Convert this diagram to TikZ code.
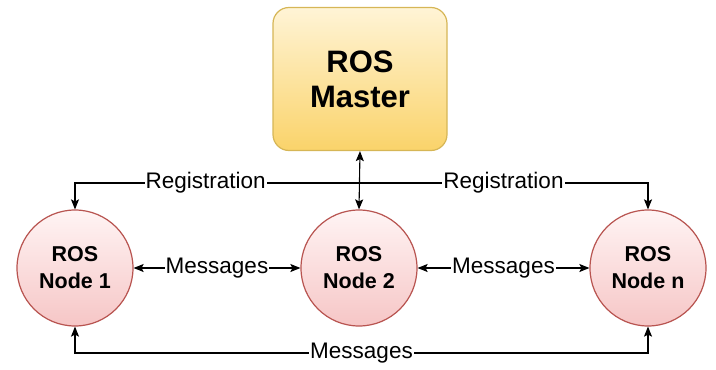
\documentclass[tikz,border=0pt]{standalone}
\usepackage{fontspec}
\setmainfont{Liberation Sans}
\usetikzlibrary{arrows.meta}
\definecolor{mastertop}{HTML}{FFF4D6}
\definecolor{masterbot}{HTML}{FAD36A}
\definecolor{masterborder}{HTML}{D6B656}
\definecolor{nodetop}{HTML}{FFF4F4}
\definecolor{nodebot}{HTML}{F6C6C6}
\definecolor{nodeborder}{HTML}{B85450}
\begin{document}
\begin{tikzpicture}[x=1pt,y=-1pt,
  master/.style={draw=masterborder, line width=1.2pt, rounded corners=16pt,
    top color=mastertop, bottom color=masterbot,
    minimum width=174pt, minimum height=143pt, align=center,
    font=\bfseries\fontsize{31}{35}\selectfont},
  rosnode/.style={circle, draw=nodeborder, line width=1.2pt,
    top color=nodetop, bottom color=nodebot, minimum size=116pt,
    inner sep=0pt, align=center, font=\bfseries\fontsize{21.5}{27}\selectfont},
  tip/.tip={Stealth[length=10pt,width=8pt,inset=2pt]},
  oneway/.style={line width=1.1pt, -tip},
  twoway/.style={line width=1.1pt, tip-tip},
  lab/.style={fill=white, inner sep=1pt, font=\fontsize{22.5}{26}\selectfont}
]
\useasboundingbox (0,0) rectangle (716,370);
\node[master] (master) at (360,79) {ROS\\Master};
\node[rosnode] (n1) at (75,268) {ROS\\Node 1};
\node[rosnode] (n2) at (359,268) {ROS\\Node 2};
\node[rosnode] (nn) at (648,268) {ROS\\Node n};
\coordinate (j) at (359,183);
\coordinate (bl) at (75,353);
\coordinate (br) at (648,353);
\draw[twoway] (master.south) -- (n2.north);
\draw[oneway] (j) -| (n1.north) node[lab, pos=0.27] {Registration};
\draw[oneway] (j) -| (nn.north) node[lab, pos=0.25] {Registration};
\draw[twoway] (n1.east) -- (n2.west) node[lab, midway] {Messages};
\draw[twoway] (n2.east) -- (nn.west) node[lab, midway] {Messages};
\draw[twoway] (n1.south) -- (bl) -- (br) node[lab, midway] {Messages} -- (nn.south);
\end{tikzpicture}
\end{document}
